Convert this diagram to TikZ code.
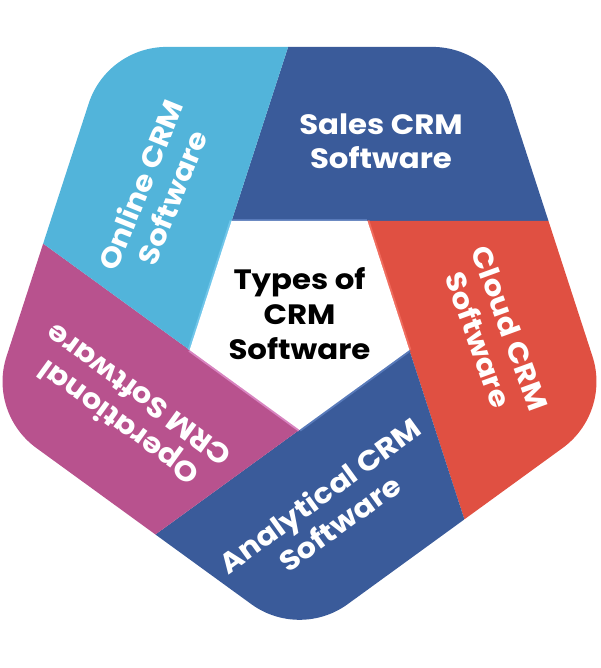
\documentclass[tikz,border=0pt]{standalone}
\usepackage{fontspec}
\setmainfont{Poppins}[FakeStretch=1.1]
\usetikzlibrary{calc}
\definecolor{cyanc}{RGB}{82,180,218}
\definecolor{navyc}{RGB}{58,91,154}
\definecolor{redc}{RGB}{224,80,66}
\definecolor{pinkc}{RGB}{184,82,142}
\definecolor{cyanl}{RGB}{112,198,234}
\definecolor{navyl}{RGB}{88,122,186}
\definecolor{redl}{RGB}{240,108,94}
\definecolor{pinkl}{RGB}{216,132,192}
\begin{document}
\begin{tikzpicture}[x=1pt,y=1pt,
  lab/.style={text=white,font=\bfseries\fontsize{28}{34}\selectfont,align=center,inner sep=0pt},
  ctr/.style={text=black,font=\bfseries\fontsize{28}{35}\selectfont,align=center,inner sep=0pt},
  stripe/.style={line width=4pt}]
\useasboundingbox (-299.5,-356.2) rectangle (300.5,311.8);
\def\Rp{226}\def\rr{82}\def\K{900}
\coordinate (c) at (0,-2.5);
\coordinate (vb)  at ($(c)+(-90:115.5)$);
\coordinate (vrb) at ($(c)+(-18:115.5)$);
\coordinate (vrt) at ($(c)+(54:115.5)$);
\coordinate (vlt) at ($(c)+(126:115.5)$);
\coordinate (vlb) at ($(c)+(198:115.5)$);
\begin{scope}
\clip ($(-90:\Rp)+(-126:\rr)$) arc[start angle=-126,delta angle=72,radius=\rr]
  -- ++(36:265.7) arc[start angle=-54,delta angle=72,radius=\rr]
  -- ++(108:265.7) arc[start angle=18,delta angle=72,radius=\rr]
  -- ++(180:265.7) arc[start angle=90,delta angle=72,radius=\rr]
  -- ++(252:265.7) arc[start angle=162,delta angle=72,radius=\rr] -- cycle;
\fill[navyc] (vlt) -- ($(vlt)+(0:\K)$) -- ($(vlt)+(72:\K)$) -- cycle;
\fill[redc]  (vrt) -- ($(vrt)+(-72:\K)$) -- ($(vrt)+(0:\K)$) -- cycle;
\fill[navyc] (vrb) -- ($(vrb)+(-144:\K)$) -- ($(vrb)+(-72:\K)$) -- cycle;
\fill[pinkc] (vb) -- ($(vb)+(144:\K)$) -- ($(vb)+(216:\K)$) -- cycle;
\fill[cyanc] (vlb) -- ($(vlb)+(72:\K)$) -- ($(vlb)+(144:\K)$) -- cycle;
\end{scope}
\draw[stripe,navyl] (vlt) -- (vrt);
\draw[stripe,redl] (vrt) -- (vrb);
\draw[stripe,navyl] (vrb) -- (vb);
\draw[stripe,pinkl] (vb) -- (vlb);
\draw[stripe,cyanl] (vlb) -- (vlt);
\fill[white] (vb) -- (vrb) -- (vrt) -- (vlt) -- (vlb) -- cycle;
\node[ctr] (center) at (0,-2) {Types of\\CRM\\Software};
\node[lab] (sales) at (81.5,170.8) {Sales CRM\\Software};
\node[lab,rotate=68] (online) at (-143.5,120.8) {Online CRM\\Software};
\node[lab,rotate=-70] (cloud) at (194.5,-22.2) {Cloud CRM\\Software};
\node[lab,rotate=36] (analytical) at (30,-197.2) {Analytical CRM\\Software};
\node[lab,rotate=144] (operational) at (-171.5,-98.2) {Operational\\CRM Software};
\end{tikzpicture}
\end{document}
